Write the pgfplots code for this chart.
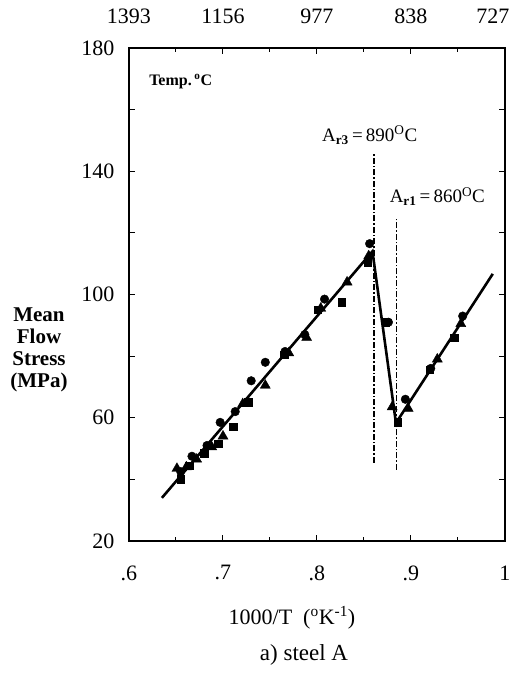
\documentclass[border=0pt]{standalone}
\usepackage{fontspec}
\setmainfont{Liberation Serif}
\usepackage{pgfplots}
\pgfplotsset{compat=1.18}

\begin{document}
\begin{tikzpicture}
\useasboundingbox (-129pt,-134pt) rectangle (388pt,541pt);
\begin{axis}[
  at={(0,0)}, anchor=south west,
  width=376pt, height=493pt, scale only axis,
  xmin=0.6, xmax=1, ymin=20, ymax=180,
  xtick={0.6,0.7,0.8,0.9,1},
  xticklabels={.6,.7,.8,.9,1},
  minor xtick={0.65,0.75,0.85,0.95},
  ytick={20,40,...,180},
  yticklabels={20,,60,,100,,140,,180},
  tick align=inside,
  major tick length=6pt, minor tick length=4pt,
  tick style={black, line width=1pt},
  axis line style={line width=1.1pt},
  /pgf/number format/assume math mode=true,
  ticklabel style={font=\fontsize{22}{26}\selectfont},
  xticklabel style={yshift=-21pt},
  yticklabel style={xshift=-11pt},
  clip=false,
]
% fitted lines
\addplot[black, line width=2.6pt, mark=none] coordinates {
  (0.635,34) (0.859,114) (0.884,58.3) (0.987,106.7)};
% circles
\addplot[only marks, black, mark=*, mark size=4.3pt] coordinates {
  (0.655,42.5) (0.667,47.5) (0.683,51) (0.697,58.5) (0.713,62)
  (0.730,72) (0.745,78) (0.766,81.5) (0.787,87) (0.808,98.5)
  (0.856,116.5) (0.876,91) (0.894,66) (0.921,76) (0.955,93)};
% squares
\addplot[only marks, black, mark=square*, mark size=3.7pt] coordinates {
  (0.655,40) (0.664,44.5) (0.680,48.5) (0.695,51.5) (0.711,57)
  (0.727,65) (0.765,80.5) (0.801,95) (0.826,97.5) (0.854,110.5)
  (0.873,91) (0.886,58.5) (0.920,75.5) (0.946,86)};
% triangles
\addplot[only marks, black, mark=triangle*, mark size=5.8pt] coordinates {
  (0.651,43.5) (0.661,44) (0.672,46.5) (0.688,50.5) (0.700,54)
  (0.721,64.5) (0.745,70.5) (0.770,81) (0.789,86) (0.804,95.5)
  (0.832,104) (0.855,112.5) (0.880,63.5) (0.897,63) (0.928,79)
  (0.953,90.5)};
% transformation temperatures
\addplot[black, line width=1.2pt, dash pattern=on 6pt off 2pt on 1.5pt off 2pt]
  coordinates {(0.8606,45.4) (0.8606,146)};
\addplot[black, line width=1.2pt, dash pattern=on 6pt off 2pt on 1.5pt off 2pt]
  coordinates {(0.885,43.1) (0.885,125.2)};

\node[font=\fontsize{19}{22}\selectfont] at (axis cs:0.856,151.7)
  {A\textsubscript{\textbf{r3}}\,=\,890\textsuperscript{O}C};
\node[font=\fontsize{19}{22}\selectfont] at (axis cs:0.928,131.7)
  {A\textsubscript{\textbf{r1}}\,=\,860\textsuperscript{O}C};
\node[font=\bfseries\fontsize{16}{18}\selectfont] at (axis cs:0.655,169)
  {Temp.\,\textsuperscript{o}C};
\end{axis}

% upper scale in deg C
\begin{axis}[
  at={(0,0)}, anchor=south west,
  width=376pt, height=493pt, scale only axis,
  xmin=0.6, xmax=1, ymin=20, ymax=180,
  axis x line*=top, hide y axis,
  axis line style={draw=none},
  major tick length=0pt,
  xtick={0.6,0.7,0.8,0.9},
  xticklabels={1393,1156,977,838},
  extra x ticks={1},
  extra x tick labels={727},
  extra x tick style={xticklabel style={xshift=-12pt}},
  /pgf/number format/assume math mode=true,
  ticklabel style={font=\fontsize{22}{26}\selectfont},
  xticklabel style={yshift=21pt},
]
\addplot[draw=none] coordinates {(0.7,50)};
\end{axis}

\node[font=\bfseries\fontsize{21}{22}\selectfont, align=center] at (-90pt,191pt)
  {Mean\\Flow\\Stress\\(MPa)};
\node[font=\fontsize{22}{26}\selectfont] at (163pt,-77pt)
  {1000/T~~(\textsuperscript{o}K\textsuperscript{-1})};
\node[font=\fontsize{23}{26}\selectfont] at (175pt,-114pt) {a) steel A};
\end{tikzpicture}
\end{document}
